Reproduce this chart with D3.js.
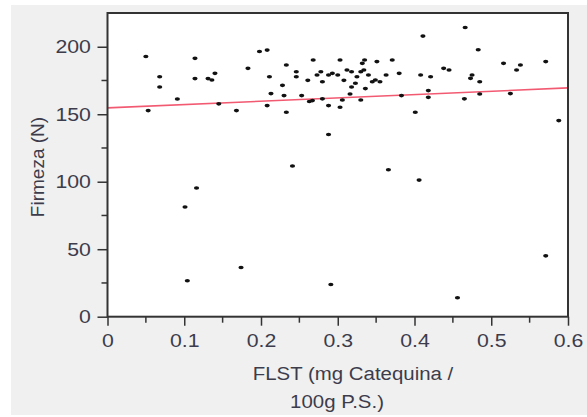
<!DOCTYPE html>
<html>
<head>
<meta charset="utf-8">
<script src="https://cdn.jsdelivr.net/npm/d3@7"></script>
<style>
    body { margin: 0; background: #fff; }
    text { font-family: "Liberation Sans", Arial, sans-serif; fill: #3c3c4c; }
</style>
</head>
<body>
<div id="chart"></div>
<script>
// FLST values (mg catequina / 100g P.S.)
const flst = [
    0.050, 0.053, 0.068, 0.068, 0.091, 0.114, 0.114, 0.131, 0.136, 0.140,
    0.145, 0.168, 0.183, 0.198, 0.208, 0.211, 0.213, 0.208, 0.228, 0.233,
    0.230, 0.233, 0.246, 0.246, 0.241, 0.116, 0.101, 0.104, 0.174, 0.288,
    0.291, 0.456, 0.571, 0.366, 0.406, 0.588, 0.253, 0.263, 0.267, 0.261,
    0.268, 0.273, 0.278, 0.280, 0.280, 0.288, 0.288, 0.293, 0.300, 0.303,
    0.303, 0.306, 0.308, 0.312, 0.318, 0.316, 0.318, 0.323, 0.325, 0.330,
    0.332, 0.335, 0.330, 0.336, 0.334, 0.340, 0.345, 0.349, 0.351, 0.355,
    0.363, 0.371, 0.380, 0.383, 0.401, 0.411, 0.408, 0.418, 0.418, 0.421,
    0.438, 0.445, 0.466, 0.465, 0.483, 0.475, 0.473, 0.485, 0.485, 0.516,
    0.525, 0.533, 0.538, 0.571
];

// Firmeza values (N)
const firmeza = [
    192.8, 152.7, 177.8, 170.2, 161.3, 191.4, 176.4, 176.4, 175.4, 180.3,
    157.7, 152.7, 184.0, 196.5, 197.5, 177.8, 165.3, 156.4, 171.4, 186.5,
    163.8, 151.5, 181.5, 177.8, 111.6, 95.3, 81.3, 26.6, 36.5, 135.0,
    23.9, 14.0, 45.1, 108.9, 101.2, 145.3, 163.8, 159.4, 160.1, 175.1,
    190.2, 179.1, 181.5, 174.1, 161.4, 156.4, 179.1, 180.3, 179.1, 190.2,
    155.2, 160.6, 175.1, 182.8, 181.5, 165.0, 170.2, 172.9, 177.8, 181.5,
    187.7, 190.2, 160.6, 169.0, 182.8, 179.1, 174.1, 175.4, 189.0, 174.1,
    179.1, 190.2, 180.3, 163.8, 151.5, 207.9, 179.1, 167.5, 162.5, 177.8,
    184.0, 182.8, 214.3, 161.4, 197.8, 179.1, 176.6, 174.1, 165.0, 187.7,
    165.3, 182.8, 186.5, 189.0
];

// fitted line end points
const fitX = [0, 0.6];
const fitY = [154.7, 169.5];

const xTicks = [0, 0.1, 0.2, 0.3, 0.4, 0.5, 0.6];
const xMinorTicks = [0.05, 0.15, 0.25, 0.35, 0.45, 0.55];
const yTicks = [0, 50, 100, 150, 200];
const yMinorTicks = [25, 75, 125, 175];

const xTitleLines = ["FLST (mg Catequina /", "100g P.S.)"];
const yTitle = "Firmeza (N)";

const width = 587;
const height = 417;
const plot = { left: 107.5, right: 568, top: 13, bottom: 316.7 };
const axisColor = "#333";
const stretch = 1.12; // the labels in the picture are a bit wide

const svg = d3.select("#chart").append("svg")
    .attr("width", width)
    .attr("height", height);

// grey panel behind everything
svg.append("rect")
    .attr("x", 11).attr("y", 5)
    .attr("width", width - 11).attr("height", 410)
    .attr("fill", "#f0f0f0");

svg.append("rect")
    .attr("x", plot.left).attr("y", plot.top)
    .attr("width", plot.right - plot.left).attr("height", plot.bottom - plot.top)
    .attr("fill", "#fff");

const x = d3.scaleLinear().domain([0, 0.6]).range([plot.left, plot.right]);
const y = d3.scaleLinear().domain([0, 225]).range([plot.bottom, plot.top]);

// fitted line
svg.append("line")
    .attr("x1", x(fitX[0])).attr("y1", y(fitY[0]))
    .attr("x2", x(fitX[1])).attr("y2", y(fitY[1]))
    .attr("stroke", "#f25a72")
    .attr("stroke-width", 1.6);

// points
svg.append("g")
    .selectAll("ellipse")
    .data(flst)
    .join("ellipse")
    .attr("cx", (d, i) => x(d))
    .attr("cy", (d, i) => y(firmeza[i]))
    .attr("rx", 2.6)
    .attr("ry", 1.8)
    .attr("fill", "#111");

// axes
const xAxis = svg.append("g")
    .attr("transform", `translate(0, ${plot.bottom})`)
    .call(d3.axisBottom(x).tickValues(xTicks).tickSize(9).tickPadding(3)
        .tickFormat(d => d === 0 ? "0" : d3.format(".1f")(d)));

xAxis.append("g")
    .selectAll("line")
    .data(xMinorTicks)
    .join("line")
    .attr("x1", d => x(d)).attr("x2", d => x(d))
    .attr("y1", 0).attr("y2", 6)
    .attr("stroke", axisColor).attr("stroke-width", 1.5);

const yAxis = svg.append("g")
    .attr("transform", `translate(${plot.left}, 0)`)
    .call(d3.axisLeft(y).tickValues(yTicks).tickSize(10).tickPadding(4.8));

yAxis.append("g")
    .selectAll("line")
    .data(yMinorTicks)
    .join("line")
    .attr("y1", d => y(d)).attr("y2", d => y(d))
    .attr("x1", 0).attr("x2", -6)
    .attr("stroke", axisColor).attr("stroke-width", 1.5);

[xAxis, yAxis].forEach(axis => {
    axis.select(".domain").remove();
    axis.selectAll(".tick line").attr("stroke", axisColor).attr("stroke-width", 1.5);
    axis.selectAll(".tick text")
        .attr("fill", "#3c3c4c")
        .attr("transform", `scale(${stretch},1)`)
        .style("font-size", "19px");
});
xAxis.selectAll(".tick text").attr("dy", "0.95em");

// frame
svg.append("rect")
    .attr("x", plot.left).attr("y", plot.top)
    .attr("width", plot.right - plot.left).attr("height", plot.bottom - plot.top)
    .attr("fill", "none")
    .attr("stroke", axisColor)
    .attr("stroke-width", 2);

// axis titles
const titleCentres = [353, 337];
const titleBaselines = [380, 408];
xTitleLines.forEach((line, i) => {
    svg.append("text")
        .attr("transform", `translate(${titleCentres[i]}, ${titleBaselines[i]}) scale(1.075,1)`)
        .attr("text-anchor", "middle")
        .style("font-size", "19px")
        .text(line);
});

svg.append("text")
    .attr("transform", `translate(44, 167) rotate(-90)`)
    .attr("text-anchor", "middle")
    .style("font-size", "19px")
    .text(yTitle);
</script>
</body>
</html>
